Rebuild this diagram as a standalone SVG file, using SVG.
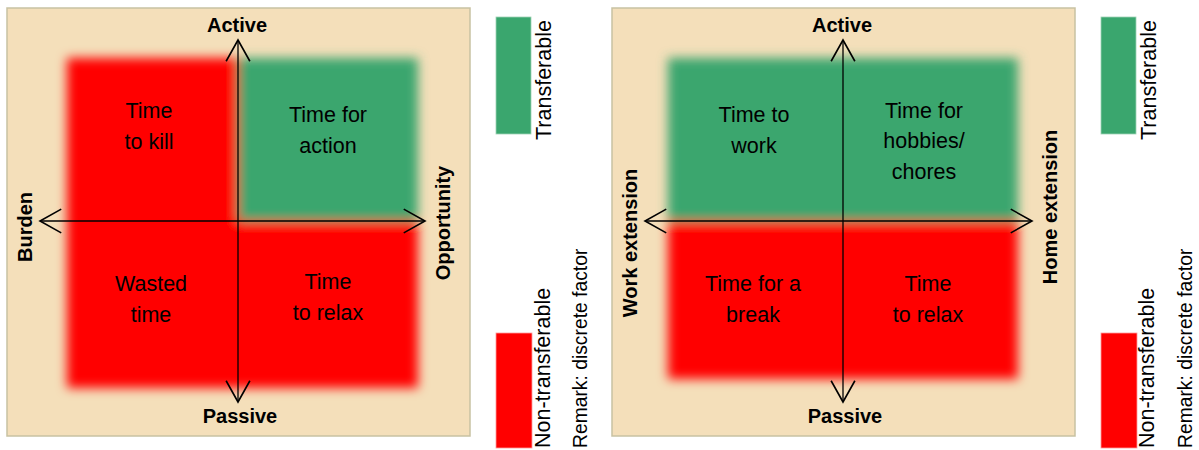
<svg xmlns="http://www.w3.org/2000/svg" width="1199" height="450" viewBox="0 0 1199 450">
<style>
.panel{fill:#f4dfba;stroke:#c8c2a2;stroke-width:1.5}
.axis{stroke:#000;stroke-width:1.3;fill:none;marker-end:url(#arr)}
.ax{font-family:"Liberation Sans",Arial,sans-serif;font-weight:bold;font-size:20px;fill:#000;text-anchor:middle}
.q{font-family:"Liberation Sans",Arial,sans-serif;font-size:21.5px;fill:#000;text-anchor:middle}
.lg{font-family:"Liberation Sans",Arial,sans-serif;font-size:21.5px;fill:#000}
.rm{font-family:"Liberation Sans",Arial,sans-serif;font-size:19.3px;fill:#000}
.g{fill:#3aa66e}
.r{fill:#ff0000}
</style>
<defs>
<filter id="soft" x="-0.15" y="-0.15" width="1.3" height="1.3"><feGaussianBlur stdDeviation="5.5"/></filter>
<marker id="arr" markerUnits="userSpaceOnUse" markerWidth="30" markerHeight="30" viewBox="-20 -12 24 24" refX="0" refY="0" orient="auto"><path d="M-17,-9.5 L0,0 L-17,9.5" fill="none" stroke="#000" stroke-width="1.3"/></marker>
</defs>

<g id="panel-left">
<rect class="panel" x="7" y="8" width="463" height="428"/>
<g filter="url(#soft)">
<rect class="r" x="67" y="58" width="171" height="330"/>
<rect class="g" x="238" y="58" width="180" height="163"/>
<rect class="r" x="238" y="221" width="180" height="167"/>
</g>
</g>

<g id="panel-right">
<rect class="panel" x="612" y="8" width="463" height="428"/>
<g filter="url(#soft)">
<rect class="g" x="668" y="58" width="350" height="163"/>
<rect class="r" x="668" y="221" width="350" height="158"/>
</g>
</g>

<g id="connectors">
<line class="axis" x1="238" y1="221" x2="238" y2="40"/>
<line class="axis" x1="238" y1="221" x2="238" y2="402"/>
<line class="axis" x1="238" y1="221" x2="40" y2="221"/>
<line class="axis" x1="238" y1="221" x2="425" y2="221"/>
<line class="axis" x1="843" y1="221" x2="843" y2="40"/>
<line class="axis" x1="843" y1="221" x2="843" y2="402"/>
<line class="axis" x1="843" y1="221" x2="645" y2="221"/>
<line class="axis" x1="843" y1="221" x2="1032" y2="221"/>
</g>

<g id="labels-left">
<text class="ax" x="237" y="32">Active</text>
<text class="ax" x="240" y="423">Passive</text>
<text class="ax" transform="translate(32,227) rotate(-90)">Burden</text>
<text class="ax" transform="translate(450,223) rotate(-90)">Opportunity</text>
</g>
<g id="q-time-to-kill"><text class="q" x="149" y="118">Time</text><text class="q" x="149" y="149">to kill</text></g>
<g id="q-time-for-action"><text class="q" x="328" y="122">Time for</text><text class="q" x="328" y="153">action</text></g>
<g id="q-wasted-time"><text class="q" x="151" y="291">Wasted</text><text class="q" x="151" y="322">time</text></g>
<g id="q-time-to-relax-left"><text class="q" x="328" y="289">Time</text><text class="q" x="328" y="320">to relax</text></g>

<g id="labels-right">
<text class="ax" x="842" y="32">Active</text>
<text class="ax" x="845" y="423">Passive</text>
<text class="ax" transform="translate(637,243) rotate(-90)">Work extension</text>
<text class="ax" transform="translate(1057,207) rotate(-90)">Home extension</text>
</g>
<g id="q-time-to-work"><text class="q" x="754" y="122">Time to</text><text class="q" x="754" y="153">work</text></g>
<g id="q-time-for-hobbies"><text class="q" x="924" y="118">Time for</text><text class="q" x="924" y="148">hobbies/</text><text class="q" x="924" y="179">chores</text></g>
<g id="q-time-for-break"><text class="q" x="753" y="291">Time for a</text><text class="q" x="753" y="322">break</text></g>
<g id="q-time-to-relax-right"><text class="q" x="928" y="291">Time</text><text class="q" x="928" y="322">to relax</text></g>

<g id="legend-left">
<rect class="g" x="496" y="17" width="35" height="117" stroke="#9fd3b5" stroke-width="0.8"/>
<text class="lg" transform="translate(551,140) rotate(-90)">Transferable</text>
<rect class="r" x="496" y="333" width="36" height="115" stroke="#ff9a9a" stroke-width="0.8"/>
<text class="lg" transform="translate(550,448) rotate(-90)">Non-transferable</text>
<text class="rm" transform="translate(587,448) rotate(-90)">Remark: discrete factor</text>
</g>

<g id="legend-right">
<rect class="g" x="1101" y="17" width="35" height="117" stroke="#9fd3b5" stroke-width="0.8"/>
<text class="lg" transform="translate(1156,140) rotate(-90)">Transferable</text>
<rect class="r" x="1101" y="333" width="36" height="115" stroke="#ff9a9a" stroke-width="0.8"/>
<text class="lg" transform="translate(1154,448) rotate(-90)">Non-transferable</text>
<text class="rm" transform="translate(1192,448) rotate(-90)">Remark: discrete factor</text>
</g>
</svg>
